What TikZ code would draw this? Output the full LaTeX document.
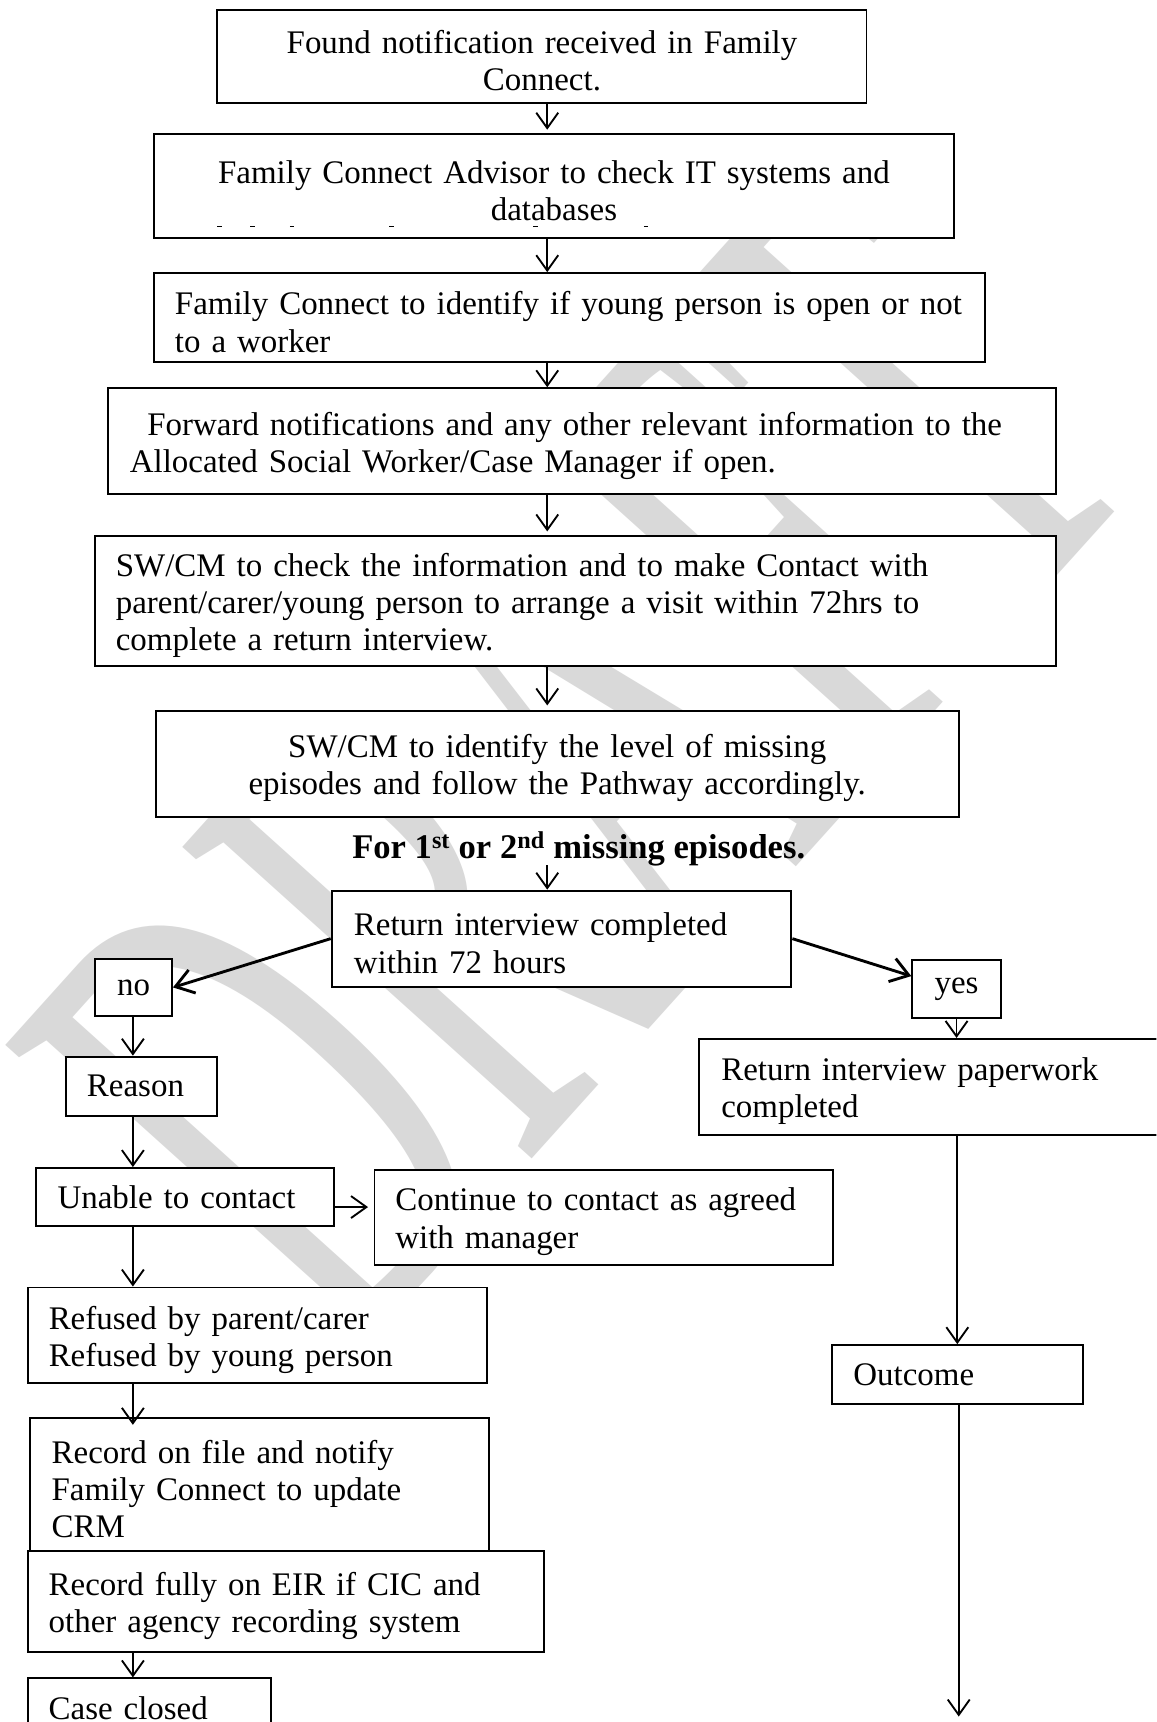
\documentclass[tikz,border=0pt]{standalone}
\usepackage{fontspec}
\setmainfont{Liberation Serif}
\usetikzlibrary{arrows.meta}
\newcommand{\bodyfont}{\fontsize{30}{33.9}\selectfont\spaceskip=0.2em plus 0.05em minus 0.02em\relax}
\newcommand{\lblfont}{\fontsize{31.5}{33.9}\selectfont\bfseries\spaceskip=0.25em\relax}
\begin{document}
\begin{tikzpicture}[x=1pt,y=-1pt,
  box/.style={draw, line width=1.8pt, fill=white, inner ysep=0pt, font=\bodyfont},
  lbox/.style={box, align=left},
  cbox/.style={box, align=center},
  ml/.style={execute at begin node={\rule{0pt}{29pt}}},
  arr/.style={line width=1.7pt, -{Straight Barb[length=14pt,width=20pt]}},
  bigarr/.style={line width=2.6pt, -{Straight Barb[length=16pt,width=22pt]}},
  wm/.style={text=black!15, inner sep=0pt, font=\fontsize{100}{100}\selectfont}]
\clip (0,0) rectangle (1053,1568);
\fill[white] (0,0) rectangle (1053,1568);
% watermark
\node[wm, anchor=base west, rotate=48] (water) at (315,1244) {\scalebox{3.35}[6.51]{DRAFT}};
% boxes
\node[cbox, ml, minimum width=591pt, minimum height=84.7pt, text width=551pt, inner xsep=20pt] (b1) at (493.5,51.4) {Found notification received in Family\\Connect.};
\node[cbox, ml, minimum width=728pt, minimum height=95pt, text width=688pt, inner xsep=20pt] (b2) at (504.4,169.5) {Family Connect Advisor to check IT systems and\\databases};
\foreach \x in {198,228,264,354.6,485.5,586.3} \draw[line width=1pt] (\x,206.4) -- ++(4,0);
\node[lbox, ml, minimum width=756pt, minimum height=81.3pt, text width=718.4pt, inner xsep=18.8pt] (b3) at (518.5,289.4) {\mbox{Family Connect to identify if young person is open or not}\\\mbox{to a worker}};
\node[lbox, ml, minimum width=863pt, minimum height=96.7pt, text width=824pt, inner xsep=19.5pt] (b4) at (530.2,401.9) {\mbox{\hspace*{16pt}Forward notifications and any other relevant information to the}\\\mbox{Allocated Social Worker/Case Manager if open.}};
\node[lbox, ml, minimum width=875pt, minimum height=119pt, text width=837.4pt, inner xsep=18.8pt] (b5) at (524.2,547.3) {\mbox{SW/CM to check the information and to make Contact with}\\\mbox{parent/carer/young person to arrange a visit within 72hrs to}\\\mbox{complete a return interview.}};
\node[cbox, ml, minimum width=731.3pt, minimum height=96.7pt, text width=691.3pt, inner xsep=20pt] (b6) at (507.4,695.6) {SW/CM to identify the level of missing\\episodes and follow the Pathway accordingly.};
\node[inner sep=0pt, font=\lblfont] (lbl) at (527,773) {For 1\textsuperscript{st} or 2\textsuperscript{nd} missing episodes.};
\node[lbox, ml, minimum width=418.6pt, minimum height=87.4pt, text width=378pt, inner xsep=20.3pt] (b7) at (511.3,854.7) {\mbox{Return interview completed}\\\mbox{within 72 hours}};
\node[cbox, minimum width=70pt, minimum height=52.4pt, text width=60pt, inner xsep=5pt] (no) at (121.6,899.1) {no};
\node[cbox, minimum width=80.6pt, minimum height=53.1pt, text width=70pt, inner xsep=5.3pt] (yes) at (871,900.8) {yes};
\node[lbox, minimum width=138.2pt, minimum height=53.7pt, text width=99.4pt, inner xsep=19.4pt] (reason) at (128.9,989) {Reason};
\node[lbox, minimum width=271.3pt, minimum height=53pt, text width=232.3pt, inner xsep=19.5pt] (unable) at (168.6,1090.1) {\mbox{Unable to contact}};
\node[lbox, ml, minimum width=417.8pt, minimum height=86.6pt, text width=379.8pt, inner xsep=19pt] (cont) at (549.9,1108.3) {\mbox{Continue to contact as agreed}\\\mbox{with manager}};
\node[lbox, ml, minimum width=417.7pt, minimum height=87.3pt, text width=380pt, inner xsep=18.8pt] (refused) at (234.4,1216) {\mbox{Refused by parent/carer}\\\mbox{Refused by young person}};
\node[lbox, ml, minimum width=417.7pt, minimum height=120.8pt, text width=378.7pt, inner xsep=19.5pt] (record) at (236.4,1351.7) {\mbox{Record on file and notify}\\\mbox{Family Connect to update}\\CRM};
\node[lbox, ml, minimum width=470.1pt, minimum height=92pt, text width=432.5pt, inner xsep=18.8pt] (rfull) at (260.6,1458.1) {\mbox{Record fully on EIR if CIC and}\\\mbox{other agency recording system}};
\node[lbox, minimum width=221.6pt, minimum height=54pt, text width=184pt, inner xsep=18.8pt] (case) at (136.3,1555.3) {\mbox{Case closed}};
\node[lbox, ml, minimum width=433.4pt, minimum height=87.4pt, text width=393pt, inner xsep=20.2pt] (paper) at (853.3,989.7) {\mbox{Return interview paperwork}\\\mbox{completed}};
\node[lbox, minimum width=228.3pt, minimum height=53.7pt, text width=189.3pt, inner xsep=19.5pt] (outc) at (871.7,1251.7) {Outcome};
% helper coordinates
\coordinate (ax) at (498.3,0);
\coordinate (lx) at (121,0);
\coordinate (lblbot) at (498.3,788);
\coordinate (endR) at (873,1563);
% connectors
\draw[arr, shorten >=3pt] (b1.south -| ax) -- (b2.north -| ax);
\draw[arr] (b2.south -| ax) -- (b3.north -| ax);
\draw[arr] (b3.south -| ax) -- (b4.north -| ax);
\draw[arr, shorten >=3pt] (b4.south -| ax) -- (b5.north -| ax);
\draw[arr, shorten >=4pt] (b5.south -| ax) -- (b6.north -| ax);
\draw[arr] (lblbot) -- (b7.north -| ax);
\draw[bigarr] (b7.west) -- (no.east);
\draw[bigarr] (b7.east) -- ([yshift=12pt]yes.west);
\draw[arr] (no.south -| lx) -- (reason.north -| lx);
\draw[arr] (reason.south -| lx) -- (unable.north -| lx);
\draw[arr, shorten >=5pt] ([yshift=-9pt]unable.east) -- ([yshift=-9pt]unable.east -| cont.west);
\draw[arr] (unable.south -| lx) -- (refused.north -| lx);
\draw[arr, shorten >=-7pt] (refused.south -| lx) -- (record.north -| lx);
\draw[arr] (rfull.south -| lx) -- (case.north -| lx);
\draw[arr] (yes.south) -- (paper.north -| yes.south);
\draw[arr] (paper.south -| outc.north) -- (outc.north);
\draw[arr] (outc.south -| endR) -- (endR);
\end{tikzpicture}
\end{document}
